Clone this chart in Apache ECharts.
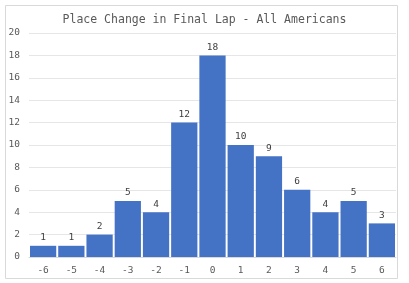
<!DOCTYPE html>
<html><head><meta charset="utf-8">
<script src="https://cdn.jsdelivr.net/npm/echarts@6/dist/echarts.min.js"></script>
<style>html,body{margin:0;padding:0;background:#fff}#c{width:409px;height:283px}</style>
</head><body><div id="c"></div>
<script>
const categories = ['-6','-5','-4','-3','-2','-1','0','1','2','3','4','5','6'];
const counts = [1,1,2,5,4,12,18,10,9,6,4,5,3];
const titleText = 'Place Change in Final Lap - All Americans';
const font = '"DejaVu Sans Mono", monospace';
const chart = echarts.init(document.getElementById('c'));
chart.setOption({
  animation: false,
  backgroundColor: '#fff',
  graphic: [{type:'rect', shape:{x:5.5,y:5.5,width:392,height:273}, style:{fill:'none', stroke:'#d9d9d9', lineWidth:1}, silent:true}],
  title: {text: titleText, left: 'center', top: 9, textStyle:{fontFamily: font, fontSize: 11.5, fontWeight:'normal', color:'#595959'}},
  grid: {left: 29, right: 13, top: 33, bottom: 26, containLabel: false},
  xAxis: {type:'category', data: categories,
    axisLine:{show:true, lineStyle:{color:'#d9d9d9'}}, axisTick:{show:false},
    axisLabel:{fontFamily: font, fontSize: 9.5, color:'#595959', margin: 9}},
  yAxis: {type:'value', min:0, max:20, interval:2,
    splitLine:{lineStyle:{color:'#e6e6e6'}},
    axisLabel:{fontFamily: font, fontSize: 9.5, color:'#595959', margin: 9},
    axisLine:{show:false}, axisTick:{show:false}},
  series: [{type:'bar', data: counts, barCategoryGap:'7%',
    itemStyle:{color:'#4472C4'},
    label:{show:true, position:'top', fontFamily: font, fontSize:9.5, color:'#404040', distance:3}}]
});
</script></body></html>
